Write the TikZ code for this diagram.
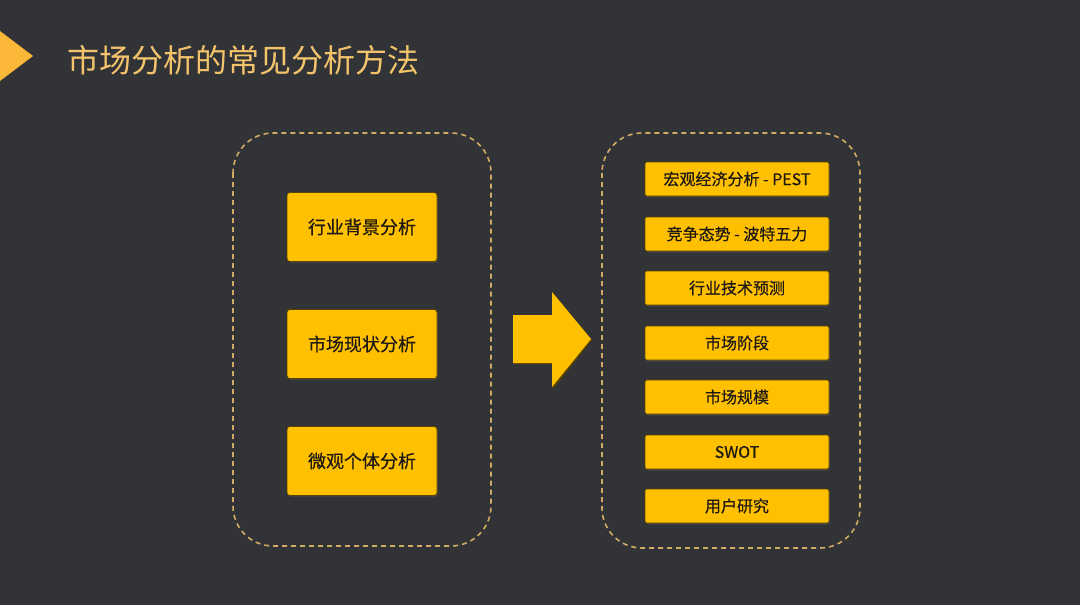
\documentclass[tikz,border=0pt]{standalone}
\usepackage{fontspec}
\setmainfont{Noto Sans CJK SC}
\newfontfamily\boxfont[FakeBold=0.6]{Noto Sans CJK SC}
\usetikzlibrary{shadows}
\definecolor{bgc}{HTML}{323336}
\definecolor{titlec}{HTML}{F4C46C}
\definecolor{tric}{HTML}{FBB838}
\definecolor{boxc}{HTML}{FFC000}
\definecolor{dashc}{HTML}{D2AC62}
\definecolor{txtc}{HTML}{1E1A12}
\definecolor{shc}{HTML}{5A4200}
\tikzset{
  group/.style={draw=dashc, line width=1.6pt, dash pattern=on 5pt off 4pt, rounded corners=40pt},
  bigbox/.style={fill=boxc, draw=shc, line width=0.6pt, rounded corners=3pt, minimum width=150pt, minimum height=69pt, inner sep=0pt, font=\boxfont\fontsize{18}{20}\selectfont, text=txtc,
    general shadow={fill=black!70, opacity=0.6, shadow xshift=1.2pt, shadow yshift=-1.5pt}},
  smallbox/.style={fill=boxc, draw=shc, line width=0.6pt, rounded corners=2pt, minimum width=184pt, minimum height=34pt, inner sep=0pt, font=\boxfont\fontsize{16}{18}\selectfont, text=txtc,
    general shadow={fill=black!70, opacity=0.6, shadow xshift=1.2pt, shadow yshift=-1.5pt}},
}
\begin{document}
\begin{tikzpicture}[x=1pt,y=-1pt]
\useasboundingbox[fill=bgc] (0,0) rectangle (1080,605);
% header triangle
\fill[tric] (0,31) -- (33,56) -- (0,81) -- cycle;
\node[anchor=west, text=titlec, font=\fontsize{32}{36}\selectfont, inner sep=0pt] (title) at (67,60) {市场分析的常见分析方法};
% left group
\draw[group] (233,133) rectangle (491,546);
\node[bigbox] (l1) at (362,227) {行业背景分析};
\node[bigbox] (l2) at (362,344) {市场现状分析};
\node[bigbox] (l3) at (362,461) {微观个体分析};
% arrow
\fill[shc] (514,316) -- (553,316) -- (553,293) -- (592,340) -- (553,389) -- (553,364) -- (514,364) -- cycle;
\fill[boxc] (513,315) -- (552,315) -- (552,292) -- (591,339) -- (552,387) -- (552,363) -- (513,363) -- cycle;
% right group
\draw[group] (602,133) rectangle (860,548);
\node[smallbox] (r1) at (737,179) {宏观经济分析 - PEST};
\node[smallbox] (r2) at (737,234) {竞争态势 - 波特五力};
\node[smallbox] (r3) at (737,288) {行业技术预测};
\node[smallbox] (r4) at (737,343) {市场阶段};
\node[smallbox] (r5) at (737,397) {市场规模};
\node[smallbox] (r6) at (737,452) {SWOT};
\node[smallbox] (r7) at (737,506) {用户研究};
\end{tikzpicture}
\end{document}
